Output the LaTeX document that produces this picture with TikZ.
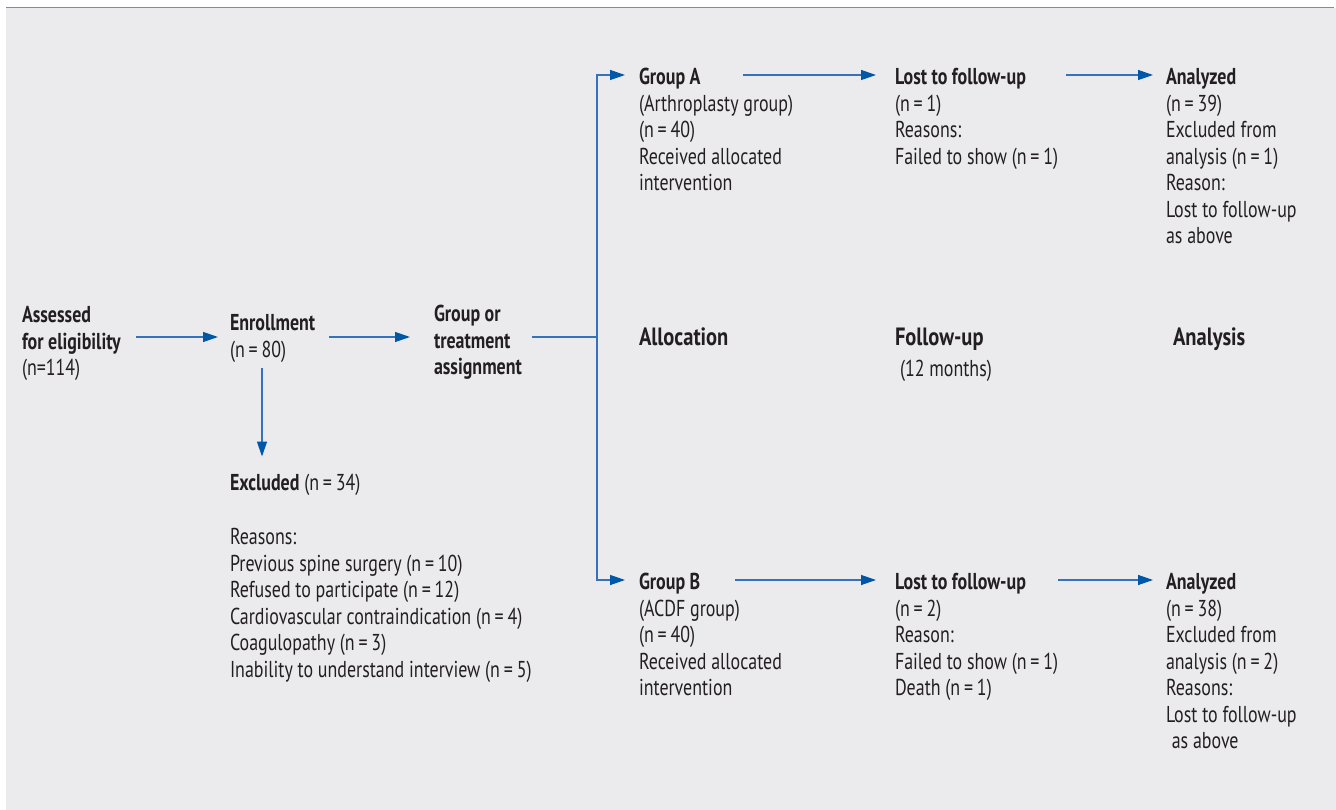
\documentclass[tikz,border=0pt]{standalone}
\usepackage{fontspec}
\setmainfont{PT Sans}[FakeStretch=0.78]
\newfontfamily\stagefont{PT Sans}[FakeStretch=0.82]
\usetikzlibrary{arrows.meta}
\definecolor{bg}{HTML}{EBEBED}
\definecolor{txt}{HTML}{231F20}
\definecolor{lnblue}{HTML}{3572BC}
\definecolor{hdblue}{HTML}{0057A8}
\definecolor{rulegray}{HTML}{8A8A8A}
\begin{document}
\begin{tikzpicture}[x=1pt,y=-1pt,
  every node/.style={inner sep=0pt, outer sep=0pt, text=txt, align=left,
    font=\fontsize{23}{26.5}\selectfont},
  blk/.style={anchor=north west, yshift=13.5pt, execute at begin node=\strut},
  stage/.style={anchor=base west, font=\stagefont\fontsize{25}{28}\selectfont\bfseries},
  ln/.style={draw=lnblue, line width=1.3pt},
  arr/.style={ln, -{Triangle[length=15pt,width=10pt,color=hdblue,fill=hdblue]}}]
\useasboundingbox (0,0) rectangle (1336,810);
\fill[bg] (6,8) rectangle (1336,810);
\draw[rulegray, line width=1.5pt] (6,7.5) -- (1334,7.5);

\coordinate (midrow) at (0,337);
\coordinate (rowA) at (0,75);
\coordinate (rowB) at (0,580);
\coordinate (fork) at (597,337);

\node[blk] (assess) at (22,320) {\textbf{Assessed}\\\textbf{for eligibility}\\(n=114)};
\node[blk] (enroll) at (230,328) {\textbf{Enrollment}\\(n\,=\,80)};
\node[blk] (group) at (434,319) {\textbf{Group or}\\\textbf{treatment}\\\textbf{assignment}};
\node[blk] (excl) at (230,485) {\textbf{Excluded} (n\,=\,34)};
\node[blk] (reasons) at (230,542) {Reasons:\\Previous spine surgery (n\,=\,10)\\Refused to participate (n\,=\,12)\\Cardiovascular contraindication (n\,=\,4)\\Coagulopathy (n\,=\,3)\\Inability to understand interview (n\,=\,5)};

\node[blk] (gA) at (639,82) {\textbf{Group A}\\(Arthroplasty group)\\(n\,=\,40)\\Received allocated\\intervention};
\node[blk] (lA) at (895,82) {\textbf{Lost to follow-up}\\(n\,=\,1)\\Reasons:\\Failed to show (n\,=\,1)};
\node[blk] (anA) at (1166,82) {\textbf{Analyzed}\\(n\,=\,39)\\Excluded from\\analysis (n\,=\,1)\\Reason:\\Lost to follow-up\\as above};

\node[stage] (alloc) at (639,345) {Allocation};
\node[stage] (follow) at (895,345) {Follow-up};
\node[blk] (months) at (900,371) {(12 months)};
\node[stage] (analysis) at (1173,345) {Analysis};

\node[blk] (gB) at (639,587) {\textbf{Group B}\\(ACDF group)\\(n\,=\,40)\\Received allocated\\intervention};
\node[blk] (lB) at (895,587) {\textbf{Lost to follow-up}\\(n\,=\,2)\\Reason:\\Failed to show (n\,=\,1)\\Death (n\,=\,1)};
\node[blk] (anB) at (1166,587) {\textbf{Analyzed}\\(n\,=\,38)\\Excluded from\\analysis (n\,=\,2)\\Reasons:\\Lost to follow-up\\\hspace{0.25em}as above};

\draw[arr] ([xshift=15pt]assess.east |- midrow) -- ([xshift=-12pt]enroll.west |- midrow);
\draw[arr] ([xshift=14pt]enroll.east |- midrow) -- ([xshift=-24pt]group.west |- midrow);
\draw[ln] ([xshift=10pt]group.east |- midrow) -- (fork);
\draw[arr] (fork) |- ([xshift=-14pt]gA.west |- rowA);
\draw[arr] (fork) |- ([xshift=-14pt]gB.west |- rowB);
\draw[arr] ([xshift=32pt]enroll.south west) ++(0,3) -- ([xshift=32pt,yshift=15pt]excl.north west);

\draw[arr] ([xshift=-152pt]lA.west |- rowA) -- ([xshift=-19pt]lA.west |- rowA);
\draw[arr] ([xshift=-100pt]anA.west |- rowA) -- ([xshift=-13pt]anA.west |- rowA);
\draw[arr] ([xshift=-160pt]lB.west |- rowB) -- ([xshift=-19pt]lB.west |- rowB);
\draw[arr] ([xshift=-108pt]anB.west |- rowB) -- ([xshift=-13pt]anB.west |- rowB);
\end{tikzpicture}
\end{document}
